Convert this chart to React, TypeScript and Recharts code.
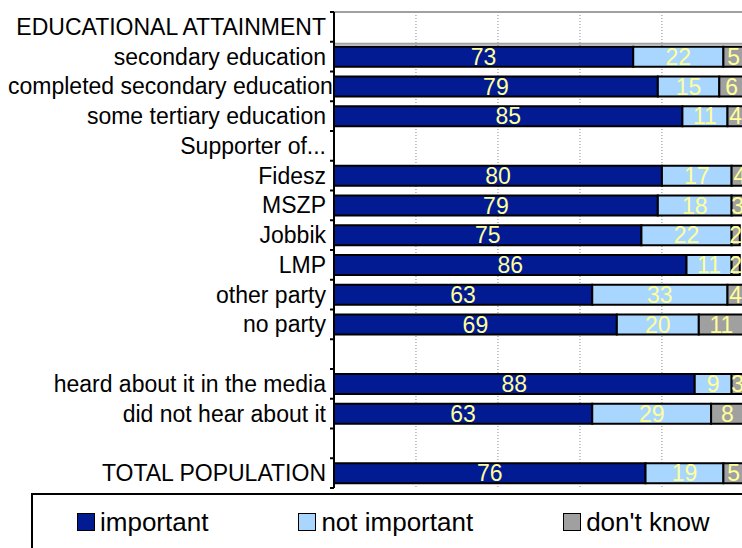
import { BarChart, Bar, XAxis, YAxis, CartesianGrid, Legend, LabelList, ReferenceLine } from 'recharts';

const categories = [
  'EDUCATIONAL ATTAINMENT',
  'secondary education',
  'completed secondary education',
  'some tertiary education',
  'Supporter of...',
  'Fidesz',
  'MSZP',
  'Jobbik',
  'LMP',
  'other party',
  'no party',
  ' ',
  'heard about it in the media',
  'did not hear about it',
  '  ',
  'TOTAL POPULATION',
];
const important = [null, 73, 79, 85, null, 80, 79, 75, 86, 63, 69, null, 88, 63, null, 76];
const notImportant = [null, 22, 15, 11, null, 17, 18, 22, 11, 33, 20, null, 9, 29, null, 19];
const dontKnow = [null, 5, 6, 4, null, 4, 3, 2, 2, 4, 11, null, 3, 8, null, 5];
const xTicks = [0, 20, 40, 60, 80, 100];

const series = [
  { key: 'important', name: 'important', color: '#031B92' },
  { key: 'notImportant', name: 'not important', color: '#A8D6FF' },
  { key: 'dontKnow', name: "don't know", color: '#A0A0A0' },
];

const data = categories.map((name, i) => ({
  name,
  important: important[i],
  notImportant: notImportant[i],
  dontKnow: dontKnow[i],
}));

const FONT = '"Liberation Sans", Arial, sans-serif';
const LABEL_SIZE = 23;
const PLOT_TOP = 12;
const PLOT_BOTTOM = 488;
const BAND = (PLOT_BOTTOM - PLOT_TOP) / categories.length;

let ctx: CanvasRenderingContext2D | null = null;
function textWidth(s: string) {
  if (!ctx) ctx = document.createElement('canvas').getContext('2d');
  if (!ctx) return s.length * 11;
  ctx.font = `${LABEL_SIZE}px "Liberation Sans"`;
  return ctx.measureText(s).width;
}

// category labels sit right of the band tick; too long ones start at the left edge and run over the bars
function CategoryTick(props: any) {
  const { x, y, payload, index } = props;
  const label = String(payload.value).trim();
  const w = textWidth(label);
  const fits = x - w >= 8;
  return (
    <g>
      <line x1={x + 4} x2={x + 8} y1={y - BAND / 2} y2={y - BAND / 2} stroke="#000" strokeWidth={2} />
      {index === categories.length - 1 && (
        <line x1={x + 4} x2={x + 8} y1={y + BAND / 2} y2={y + BAND / 2} stroke="#000" strokeWidth={2} />
      )}
      <text
        x={fits ? x : 8}
        y={y}
        textAnchor={fits ? 'end' : 'start'}
        dominantBaseline="central"
        fontSize={LABEL_SIZE}
        fontFamily={FONT}
        fill="#000"
      >
        {label}
      </text>
    </g>
  );
}

function LegendBox() {
  return (
    <div
      style={{
        boxSizing: 'border-box',
        width: 760,
        height: 70,
        border: '2px solid #000',
        background: '#fff',
        display: 'flex',
        alignItems: 'flex-start',
        gap: 90,
        paddingLeft: 44,
        paddingTop: 13,
        fontFamily: FONT,
        fontSize: 26,
        color: '#000',
      }}
    >
      {series.map((s) => (
        <div key={s.key} style={{ display: 'flex', alignItems: 'center', height: 28 }}>
          <span
            style={{
              boxSizing: 'border-box',
              width: 18,
              height: 18,
              background: s.color,
              border: '1.5px solid #000',
              marginRight: 5,
            }}
          />
          <span>{s.name}</span>
        </div>
      ))}
    </div>
  );
}

export default function App() {
  return (
    <div style={{ position: 'absolute', left: 0, top: 0, width: 742, height: 548, overflow: 'hidden', background: '#fff' }}>
      <BarChart
        width={760}
        height={548}
        data={data}
        layout="vertical"
        margin={{ top: PLOT_TOP, right: 12, bottom: 548 - PLOT_BOTTOM, left: 0 }}
      >
        <CartesianGrid horizontal={false} stroke="#8a8a8a" strokeDasharray="1 2" />
        <XAxis type="number" domain={[0, 100]} ticks={xTicks} hide />
        <YAxis yAxisId="frame" type="number" domain={[0, 1]} hide />
        <ReferenceLine yAxisId="frame" y={0} stroke="#a0a0a0" strokeWidth={2} />
        <ReferenceLine yAxisId="frame" y={1} stroke="#a0a0a0" strokeWidth={2} />
        {series.map((s) => (
          <Bar
            key={s.key}
            dataKey={s.key}
            name={s.name}
            stackId="a"
            fill={s.color}
            stroke="#000"
            strokeWidth={2}
            barSize={20}
            isAnimationActive={false}
          >
            <LabelList
              dataKey={s.key}
              position="center"
              fill="#FFFF99"
              fontSize={LABEL_SIZE}
              fontFamily={FONT}
              formatter={(v: any) => (v == null ? '' : v)}
            />
          </Bar>
        ))}
        <YAxis
          type="category"
          dataKey="name"
          width={334}
          tickSize={8}
          tickMargin={0}
          tickLine={false}
          axisLine={{ stroke: '#000', strokeWidth: 2 }}
          interval={0}
          tick={<CategoryTick />}
        />
        <Legend
          layout="horizontal"
          verticalAlign="middle"
          align="center"
          content={<LegendBox />}
          wrapperStyle={{ left: 31, top: 493, width: 760, height: 70 }}
        />
      </BarChart>
    </div>
  );
}
